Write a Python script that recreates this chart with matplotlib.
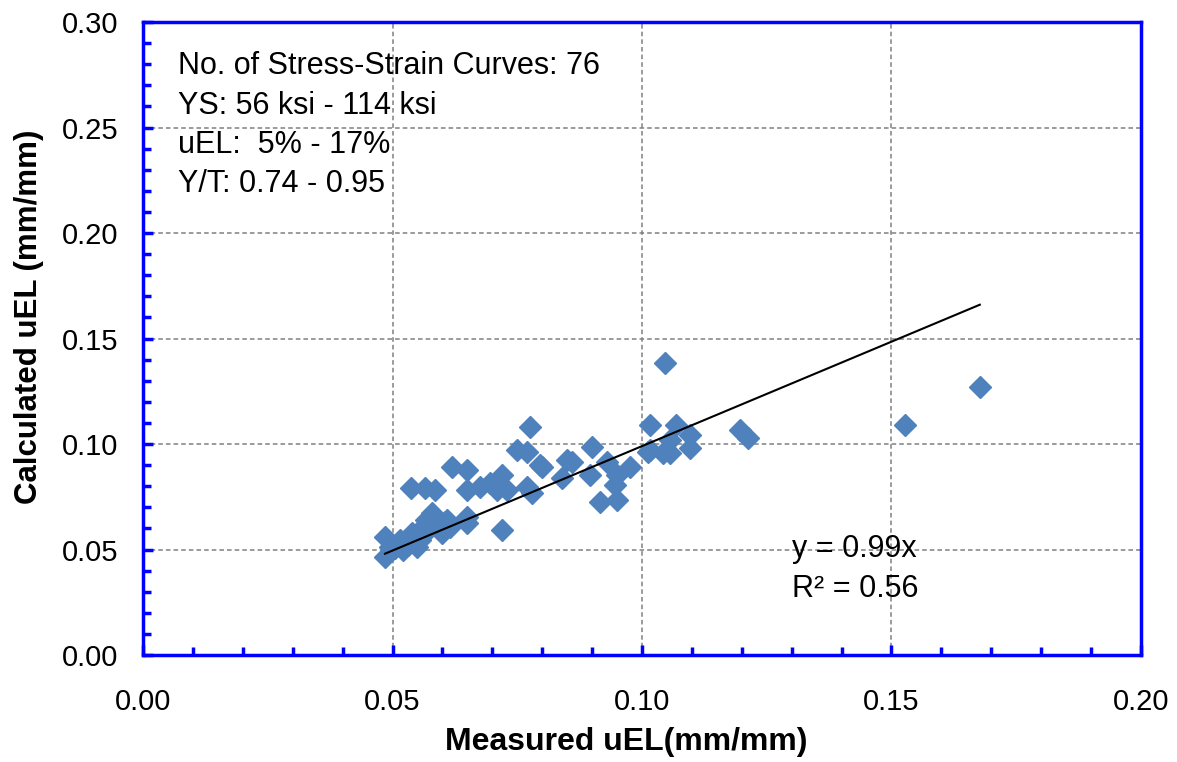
import numpy as np
import matplotlib
matplotlib.use("Agg")
import matplotlib.pyplot as plt
from matplotlib.ticker import MultipleLocator, FormatStrFormatter

plt.rcParams['font.family'] = ['Liberation Sans', 'DejaVu Sans']

# measured vs calculated uniform elongation (mm/mm)
measured = [0.0485, 0.0485, 0.0495, 0.0505, 0.0515, 0.0521, 0.0531, 0.0539, 0.0549,
            0.0555, 0.0561, 0.0567, 0.0571, 0.0575, 0.0579, 0.0589, 0.0599, 0.0605,
            0.0609, 0.0615, 0.0649, 0.0649, 0.0719,
            0.0537, 0.0565, 0.0585, 0.0619, 0.0649, 0.0649, 0.0675, 0.0695, 0.0709,
            0.0719, 0.0729, 0.0749, 0.0770, 0.0770, 0.0776, 0.0780, 0.0796, 0.0800,
            0.0840, 0.0850, 0.0860, 0.0896, 0.0900, 0.0916, 0.0930, 0.0946, 0.0950,
            0.0950, 0.0976, 0.1012, 0.1016, 0.1016, 0.1042, 0.1046, 0.1056, 0.1056,
            0.1068, 0.1096, 0.1096, 0.1196, 0.1212, 0.1527, 0.1677]
calculated = [0.0559, 0.0464, 0.0512, 0.0507, 0.0545, 0.0498, 0.0521, 0.0578, 0.0512,
              0.0545, 0.0607, 0.0640, 0.0592, 0.0654, 0.0673, 0.0626, 0.0578, 0.0630,
              0.0640, 0.0607, 0.0654, 0.0626, 0.0592,
              0.0791, 0.0791, 0.0782, 0.0891, 0.0877, 0.0782, 0.0796, 0.0815, 0.0782,
              0.0853, 0.0782, 0.0972, 0.0962, 0.0796, 0.1080, 0.0768, 0.0900, 0.0891,
              0.0839, 0.0924, 0.0915, 0.0853, 0.0986, 0.0725, 0.0915, 0.0806, 0.0853,
              0.0735, 0.0891, 0.0962, 0.1090, 0.0972, 0.0957, 0.1384, 0.1019, 0.0957,
              0.1090, 0.1043, 0.0981, 0.1066, 0.1028, 0.1090, 0.1270]
slope = 0.99
r2 = 0.56

info_lines = ["No. of Stress-Strain Curves: 76",
              "YS: 56 ksi - 114 ksi",
              "uEL:  5% - 17%",
              "Y/T: 0.74 - 0.95"]

fig = plt.figure(figsize=(11.77, 7.62), dpi=100)
ax = fig.add_axes([0.1215, 0.1404, 0.8479, 0.8307])

ax.plot(measured, calculated, linestyle='none', marker='D', ms=11,
        color='#4F81BD', mec='#4F81BD', zorder=3)

xfit = np.array([min(measured), max(measured)])
ax.plot(xfit, slope * xfit, color='black', lw=1.5, zorder=4)

ax.set_xlim(0, 0.20)
ax.set_ylim(0, 0.30)
ax.xaxis.set_major_locator(MultipleLocator(0.05))
ax.xaxis.set_minor_locator(MultipleLocator(0.01))
ax.yaxis.set_major_locator(MultipleLocator(0.05))
ax.yaxis.set_minor_locator(MultipleLocator(0.01))
ax.xaxis.set_major_formatter(FormatStrFormatter('%.2f'))
ax.yaxis.set_major_formatter(FormatStrFormatter('%.2f'))

ax.grid(True, which='major', color='#808080', linestyle=(0, (3, 2)), lw=1.1)
ax.set_axisbelow(True)

for s in ax.spines.values():
    s.set_color('#0000FF')
    s.set_linewidth(2.5)

ax.tick_params(which='both', direction='in', color='#0000FF', width=2.5,
               top=False, right=False, labelsize=21)
ax.tick_params(axis='x', which='major', length=7, pad=24)
ax.tick_params(axis='y', which='major', length=7, pad=18)
ax.tick_params(which='minor', length=6)

ax.set_xlabel("Measured uEL(mm/mm)", fontsize=23, fontweight='bold')
ax.set_ylabel("Calculated uEL (mm/mm)", fontsize=22.5, fontweight='bold')
ax.xaxis.set_label_coords(0.484, -0.113)
ax.yaxis.set_label_coords(-0.099, 0.535)

for i, line in enumerate(info_lines):
    ax.text(0.035, 0.93 - i * 0.062, line, transform=ax.transAxes,
            fontsize=22, va='center', ha='left')

ax.text(0.65, 0.167, "y = %.2fx" % slope, transform=ax.transAxes, fontsize=22,
        va='center', ha='left')
ax.text(0.65, 0.105, "R² = %.2f" % r2, transform=ax.transAxes, fontsize=22,
        va='center', ha='left')

fig.savefig("out.png", dpi=100)
